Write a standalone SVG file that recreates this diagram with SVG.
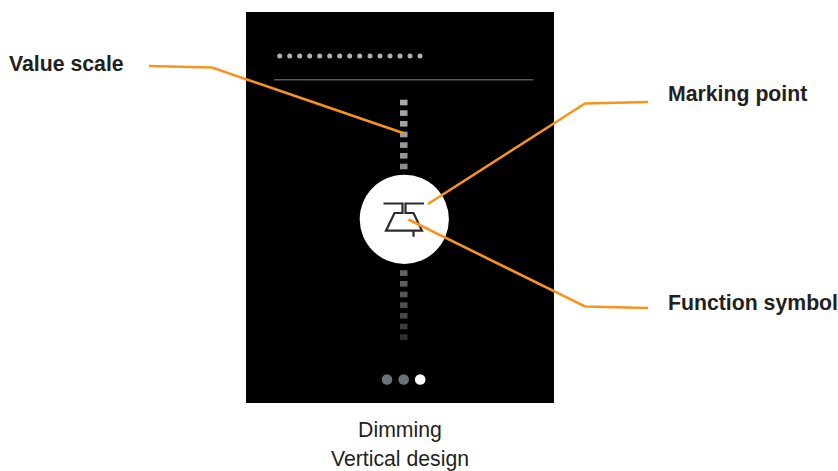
<svg xmlns="http://www.w3.org/2000/svg" width="838" height="471" viewBox="0 0 838 471">
<style>
.lbl{font-family:"Liberation Sans",Arial,sans-serif;font-size:21.25px;font-weight:700;fill:#231f20}
.cap{font-family:"Liberation Sans",Arial,sans-serif;font-size:21.25px;fill:#231f20;text-anchor:middle}
.conn{fill:none;stroke:#f7941d;stroke-width:2.6}
.ic{fill:none;stroke:#2b2b2d;stroke-width:2.2}
</style>
<rect width="838" height="471" fill="#fff"/>
<g id="device">
<rect x="246" y="12" width="308" height="391" fill="#000"/>
<g fill="#b1b3b6">
<circle cx="279.7" cy="56" r="2.5"/><circle cx="289.7" cy="56" r="2.5"/><circle cx="299.7" cy="56" r="2.5"/><circle cx="309.7" cy="56" r="2.5"/><circle cx="319.7" cy="56" r="2.5"/><circle cx="329.7" cy="56" r="2.5"/><circle cx="339.7" cy="56" r="2.5"/><circle cx="349.7" cy="56" r="2.5"/><circle cx="359.7" cy="56" r="2.5"/><circle cx="370" cy="56" r="2.5"/><circle cx="380" cy="56" r="2.5"/><circle cx="390" cy="56" r="2.5"/><circle cx="400" cy="56" r="2.5"/><circle cx="410" cy="56" r="2.5"/><circle cx="420" cy="56" r="2.5"/>
</g>
<rect x="274" y="79" width="259.5" height="1.5" fill="#58585a"/>
<rect x="400" y="99.7" width="7.5" height="5.6" fill="#a7a9ac"/>
<rect x="400" y="110.3" width="7.5" height="5.6" fill="#a3a5a8"/>
<rect x="400" y="121" width="7.5" height="5.6" fill="#a0a2a5"/>
<rect x="400" y="131.7" width="7.5" height="5.6" fill="#9c9ea1"/>
<rect x="400" y="142.3" width="7.5" height="5.6" fill="#97999c"/>
<rect x="400" y="153" width="7.5" height="5.6" fill="#939598"/>
<rect x="400" y="163.7" width="7.5" height="5.6" fill="#8a8c8e"/>
<rect x="400" y="270.3" width="7.5" height="5.6" fill="#636466"/>
<rect x="400" y="281" width="7.5" height="5.6" fill="#5c5d5f"/>
<rect x="400" y="291.7" width="7.5" height="5.6" fill="#565759"/>
<rect x="400" y="302.3" width="7.5" height="5.6" fill="#505153"/>
<rect x="400" y="313" width="7.5" height="5.6" fill="#48494b"/>
<rect x="400" y="323.7" width="7.5" height="5.6" fill="#3c3d3f"/>
<rect x="400" y="334.3" width="7.5" height="5.6" fill="#303133"/>
<circle cx="387" cy="379.5" r="5.3" fill="#6c727c"/>
<circle cx="403.7" cy="379.5" r="5.3" fill="#6c727c"/>
<circle cx="420.2" cy="379.5" r="5.3" fill="#fff"/>
</g>
<g id="knob">
<circle cx="404.3" cy="219.3" r="44.6" fill="#fff"/>
<path class="ic" d="M383.5 203.5H402.5V213H394.5L386 230.7H422L413.5 213H405.5V203.5H424M413.5 230.7V236.7"/>
</g>
<g id="connectors">
<path class="conn" d="M149 66L212 67.5L403 133"/>
<path class="conn" d="M428 204L585 103.5L648 102"/>
<path class="conn" d="M408.5 219.5L585 306.5L648 308"/>
</g>
<g id="label-value-scale"><text class="lbl" x="9" y="71">Value scale</text></g>
<g id="label-marking-point"><text class="lbl" x="668" y="101">Marking point</text></g>
<g id="label-function-symbol"><text class="lbl" x="668" y="310">Function symbol</text></g>
<g id="caption"><text class="cap" x="400" y="437">Dimming</text><text class="cap" x="400" y="466.3">Vertical design</text></g>
</svg>
